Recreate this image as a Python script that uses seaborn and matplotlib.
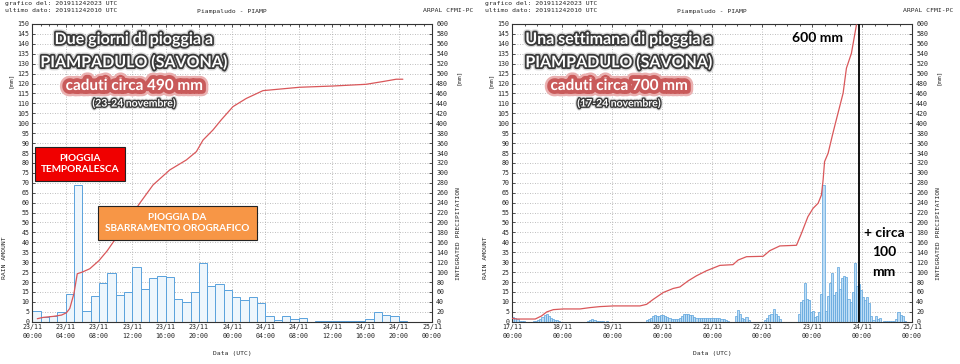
import matplotlib
matplotlib.use("Agg")
import matplotlib.pyplot as plt
import matplotlib.patheffects as pe
from matplotlib.patches import Rectangle
from matplotlib.ticker import MultipleLocator
import seaborn as sns
import pandas as pd


# ---------------- DATA ----------------
# hourly rain, 23/11 00:00 -> 24/11 23:00 [mm]
rain_2days = [5.3, 2.5, 2.7, 4.8, 14.0, 69.0, 5.5, 13.2, 19.7, 24.7,
              13.3, 15.2, 27.7, 16.5, 22.2, 23.2, 22.3, 11.5, 10.0, 15.2,
              29.8, 18.2, 18.8, 15.8, 12.2, 10.7, 12.5, 9.5, 2.7, 0.8,
              2.7, 1.3, 1.7, 0.0, 0.5, 0.5, 0.5, 0.5, 0.5, 0.6,
              1.6, 4.8, 3.3, 2.7, 0.6, 0.0, 0.0, 0.0]

# hourly rain, 17/11 00:00 -> 22/11 23:00 [mm] (the week before the two days)
rain_before = [2.5, 2.0, 1.5,
               0.3, 0.3, 0.2, 0, 0, 0, 0, 0.2,
               0.5, 1, 1.5, 2.5, 3.5, 4, 3, 2, 1.5, 1, 0.8, 0.5,
               0, 0, 0, 0, 0, 0, 0, 0, 0, 0, 0, 0, 0,
               0.5, 1, 1.2, 1, 0.5, 0.5, 0.5,
               0.3, 0, 0.4, 0, 0, 0,
               0, 0, 0, 0, 0, 0, 0, 0, 0, 0, 0, 0, 0, 0, 0,
               1, 1.5, 2, 3, 3.2, 2.8, 3, 3.3, 3.3, 3, 2.5, 2, 1.5, 1.2, 1.2, 1.5, 2,
               3, 3.8, 4, 3.8, 3.5, 3.5, 2.5, 2, 2, 1.8,
               1.8, 1.8, 1.8, 1.8, 2, 2, 1.8, 2, 2, 1.6, 1.2, 1, 0.5,
               0, 0, 0,
               3, 5.8, 4, 2, 1.5, 2.5, 1,
               0, 0, 0, 0, 0, 0, 0,
               1, 2, 3.5, 4, 6.5, 4, 3, 1.5,
               0, 0, 0, 0, 0, 0, 0, 0,
               4, 10, 11, 19.4, 11.5, 11, 5]

rain_week = rain_before + rain_2days

# integrated precipitation, hours from start of each chart [mm]
cum_2days_h = [0.6, 1.3, 2.5, 3.5, 4.1, 4.5, 5.0, 5.4, 6.0, 6.9, 8.0, 9.0, 9.7,
               12.9, 14.5, 16.5, 18.5, 19.7, 20.5, 21.7, 22.7, 24.1, 25.7,
               27.7, 32.1, 36.1, 40.1, 42.1, 43.7, 44.5]
cum_2days_mm = [6, 8.7, 10.7, 13.3, 18, 26.7, 56.7, 96.7, 100, 106.7, 123, 143, 160,
                238.7, 275.6, 305.8, 326, 342.7, 366, 386.5, 407, 433.5, 450,
                465.7, 472.5, 475, 478.5, 484, 488.7, 488.7]

cum_week_h = [0, 2, 11, 14, 16.5, 19.7, 24.5, 32.5, 37.3, 42, 48.5, 61.3, 64.5,
              67.7, 72.5, 77.3, 80.5, 84.5, 88.5, 93.3, 99.7, 106, 108.5, 112.5,
              120.5, 123.7, 128.5, 136.5, 138.9, 142, 144.5, 146.9, 148.5, 149.3,
              150, 151.7, 154, 155.7, 158.9, 160.5, 162.9, 165.3]
cum_week_mm = [6.8, 5.4, 5.4, 11.5, 19.6, 24.3, 25.7, 25.7, 28.4, 30.4, 31.8, 31.8, 35,
               45, 58.8, 67, 70, 82.4, 92.6, 102.7, 113.5, 115, 124.3, 131,
               131.8, 143.2, 152.7, 154, 178, 211.7, 228.6, 238.7, 255.4, 285.7,
               322.6, 339.5, 379.8, 408, 460.5, 511, 541, 598]

ticks_2days = ["23/11\n00:00", "23/11\n04:00", "23/11\n08:00", "23/11\n12:00",
               "23/11\n16:00", "23/11\n20:00", "24/11\n00:00", "24/11\n04:00",
               "24/11\n08:00", "24/11\n12:00", "24/11\n16:00", "24/11\n20:00",
               "25/11\n00:00"]
ticks_week = ["17/11\n00:00", "18/11\n00:00", "19/11\n00:00", "20/11\n00:00",
              "21/11\n00:00", "22/11\n00:00", "23/11\n00:00", "24/11\n00:00",
              "25/11\n00:00"]

marker_hour = 166.6   # black line on the week chart


# ---------------- STYLE ----------------
sns.set_style("white")
plt.rcParams["font.family"] = ["DejaVu Sans"]
MONO = "DejaVu Sans Mono"
TICK_FS = 4.8
BAR_EDGE = "#5aa2dc"
LINE_RED = "#d9575a"

fig = plt.figure(figsize=(9.6, 3.64), dpi=100)
fig.patch.set_facecolor("white")


def px(x, y):
    return x / 960, 1 - y / 364


def draw_panel(x_off, rain, cum_h, cum_mm, step, labels, minor, face):
    ax = fig.add_axes([(32.3 + x_off) / 960, 1 - 321.7 / 364,
                       399.7 / 960, 297.7 / 364])
    hours = len(rain)
    df = pd.DataFrame({"hour": [i + 0.5 for i in range(hours)], "rain": rain})
    sns.barplot(data=df, x="hour", y="rain", native_scale=True, width=1,
                color=face, saturation=1, edgecolor=BAR_EDGE,
                linewidth=0.7 if hours < 100 else 0.5, errorbar=None, ax=ax)
    ax.set_xlim(0, 48 if hours < 100 else 192)
    ax.set_ylim(0, 150)
    ax.set_yticks(range(0, 151, 5))
    ax.set_xticks(range(0, len(labels) * step, step))
    ax.set_xticklabels(labels, family=MONO, fontsize=TICK_FS, linespacing=1.5)
    ax.xaxis.set_minor_locator(MultipleLocator(minor))
    ax.set_xlabel("")
    ax.set_ylabel("")
    for t in ax.get_yticklabels():
        t.set_family(MONO)
        t.set_fontsize(TICK_FS)
    ax.grid(True, linestyle=(0, (1, 2)), color="#a8a8a8", lw=0.6)
    ax.set_axisbelow(True)
    ax.tick_params(axis="both", which="both", direction="in", length=2,
                   width=0.6, top=True, pad=2, color="#333333")
    ax.tick_params(axis="x", which="minor", length=1.5)
    for s in ax.spines.values():
        s.set_color("#333333")
        s.set_linewidth(0.8)

    ax2 = ax.twinx()
    sns.lineplot(x=cum_h, y=cum_mm, color=LINE_RED, lw=0.9, ax=ax2)
    ax2.set_ylim(0, 600)
    ax2.set_yticks(range(0, 601, 20))
    ax2.set_ylabel("")
    for t in ax2.get_yticklabels():
        t.set_family(MONO)
        t.set_fontsize(TICK_FS)
    ax2.tick_params(axis="y", direction="in", length=2, width=0.6, pad=3,
                    color="#333333")
    for s in ax2.spines.values():
        s.set_visible(False)

    # frame texts
    fig.text(*px(5 + x_off, 4), "grafico del: 201911242023 UTC", family=MONO,
             fontsize=4.6, va="center")
    fig.text(*px(5 + x_off, 11), "ultimo dato: 201911242010 UTC", family=MONO,
             fontsize=4.6, va="center")
    fig.text(*px(232 + x_off, 12), "Piampaludo - PIAMP", family=MONO,
             fontsize=4.6, ha="center", va="center")
    fig.text(*px(473 + x_off, 10), "ARPAL CFMI-PC", family=MONO,
             fontsize=4.6, ha="right", va="center")
    fig.text(*px(10 + x_off, 80), "[mm]", family=MONO, fontsize=4.6,
             rotation=90, ha="center", va="center")
    fig.text(*px(5 + x_off, 258), "RAIN AMOUNT", family=MONO, fontsize=4.6,
             rotation=90, ha="center", va="center")
    fig.text(*px(458 + x_off, 77), "[mm]", family=MONO, fontsize=4.6,
             rotation=90, ha="center", va="center")
    fig.text(*px(459 + x_off, 233), "INTEGRATED PRECIPITATION", family=MONO,
             fontsize=4.6, rotation=90, ha="center", va="center")
    fig.text(*px(232 + x_off, 354), "Data (UTC)", family=MONO, fontsize=4.6,
             ha="center", va="center")
    return ax, ax2


ax_l, ax_l2 = draw_panel(0, rain_2days, cum_2days_h, cum_2days_mm, 4,
                         ticks_2days, 1, "#eef6fc")
ax_r, ax_r2 = draw_panel(480, rain_week, cum_week_h, cum_week_mm, 24,
                         ticks_week, 6, "#bcdcf5")
ax_r2.axvline(marker_hour, color="black", lw=1.3)


# ---------------- ANNOTATIONS ----------------
ANN = ["Lato", "DejaVu Sans"]
outline = [pe.Stroke(linewidth=4.5, foreground="#d8d8d8"),
           pe.Stroke(linewidth=2.6, foreground="#3a3a3a"), pe.Normal()]
outline_small = [pe.Stroke(linewidth=3.5, foreground="#d8d8d8"),
                 pe.Stroke(linewidth=2.0, foreground="#3a3a3a"), pe.Normal()]
glow = [pe.Stroke(linewidth=9, foreground="#eab0b0"),
        pe.Stroke(linewidth=5.5, foreground="#c95a5a"), pe.Normal()]


def title_block(cx, l1, l3, l4):
    fig.text(*px(cx, 40), l1, family=ANN, weight="bold", fontsize=11.5,
             color="white", ha="center", va="center", path_effects=outline)
    fig.text(*px(cx, 63), "PIAMPADULO (SAVONA)", family=ANN, weight="bold",
             fontsize=11.5, color="white", ha="center", va="center",
             path_effects=outline)
    fig.text(*px(cx, 86), l3, family=ANN, weight="bold", fontsize=11,
             color="white", ha="center", va="center", path_effects=glow)
    fig.text(*px(cx, 104), l4, family=ANN, weight="bold", fontsize=7.5,
             color="white", ha="center", va="center", path_effects=outline_small)


title_block(134, "Due giorni di pioggia a", "caduti circa 490 mm",
            "(23-24 novembre)")
title_block(619, "Una settimana di pioggia a", "caduti circa 700 mm",
            "(17-24 novembre)")


def box(x0, y0, x1, y1, fc, text):
    fig.add_artist(Rectangle(px(x0, y1), (x1 - x0) / 960, (y1 - y0) / 364,
                             transform=fig.transFigure, facecolor=fc,
                             edgecolor="#222222", lw=0.8, zorder=5))
    fig.text(*px((x0 + x1) / 2, (y0 + y1) / 2), text, family=ANN,
             weight="bold", fontsize=7.2, color="white", ha="center",
             va="center", linespacing=1.25, zorder=6)


box(35, 147, 125, 181, "#f00000", "PIOGGIA\nTEMPORALESCA")
box(98, 206, 257, 240, "#f79646", "PIOGGIA DA\nSBARRAMENTO OROGRAFICO")

fig.text(*px(817, 38), "600 mm", family=ANN, weight="bold", fontsize=10,
         color="black", ha="center", va="center")
fig.text(*px(884, 233), "+ circa", family=ANN, weight="bold", fontsize=10,
         color="black", ha="center", va="center")
fig.text(*px(884, 252), "100", family=ANN, weight="bold", fontsize=10,
         color="black", ha="center", va="center")
fig.text(*px(884, 272), "mm", family=ANN, weight="bold", fontsize=10,
         color="black", ha="center", va="center")

fig.savefig("out.png", dpi=100, facecolor="white")
